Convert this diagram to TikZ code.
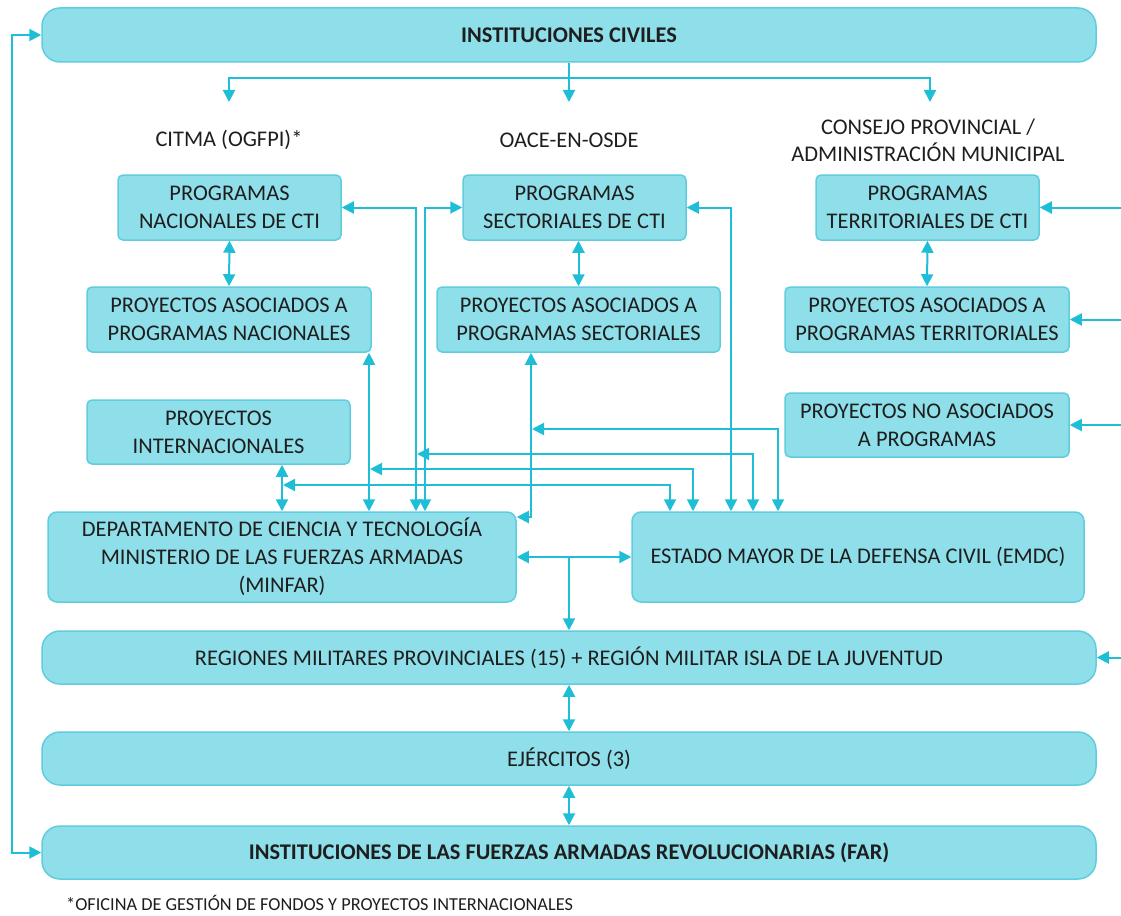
\documentclass[tikz,border=0pt]{standalone}
\usepackage{fontspec}
\setmainfont{Carlito}
\usetikzlibrary{arrows.meta,calc}
\definecolor{bfill}{RGB}{142,223,234}
\definecolor{bdraw}{RGB}{95,205,222}
\definecolor{lnc}{RGB}{30,190,214}
\definecolor{txt}{RGB}{30,30,30}
\begin{document}
\begin{tikzpicture}[x=1pt,y=-1pt,
  >={Triangle[length=12pt,width=12pt]},
  box/.style={draw=bdraw, fill=bfill, line width=1.5pt, rounded corners=5pt, align=center, text=txt, font=\fontsize{22.4}{28}\selectfont, inner sep=0pt},
  bigbox/.style={box, rounded corners=9pt, minimum width=#1, minimum height=90pt},
  bar/.style={box, rounded corners=18pt, minimum width=1054pt, minimum height=53pt},
  lbl/.style={align=center, text=txt, font=\fontsize{22.4}{27}\selectfont, inner sep=0pt},
  con/.style={draw=lnc, line width=2pt}]
\useasboundingbox (0,0) rectangle (1121,915);

% boxes
\node[bar, minimum height=54pt, font=\fontsize{22.4}{28}\selectfont\bfseries] (civ) at (569,35) {INSTITUCIONES CIVILES};
\node[lbl] (citma) at (229,140) {CITMA (OGFPI)*};
\node[lbl] (oace) at (569,140) {OACE-EN-OSDE};
\node[lbl] (cons) at (928,140) {CONSEJO PROVINCIAL /\\ADMINISTRACIÓN MUNICIPAL};

\node[box, minimum width=223pt, minimum height=65pt] (pn) at (229.5,207.5) {PROGRAMAS\\NACIONALES DE CTI};
\node[box, minimum width=223pt, minimum height=65pt] (ps) at (574.5,207.5) {PROGRAMAS\\SECTORIALES DE CTI};
\node[box, minimum width=223pt, minimum height=65pt] (pt) at (927.5,207.5) {PROGRAMAS\\TERRITORIALES DE CTI};

\node[box, minimum width=284pt, minimum height=65pt] (pan) at (229,319.5) {PROYECTOS ASOCIADOS A\\PROGRAMAS NACIONALES};
\node[box, minimum width=283pt, minimum height=65pt] (pas) at (578.5,319.5) {PROYECTOS ASOCIADOS A\\PROGRAMAS SECTORIALES};
\node[box, minimum width=284pt, minimum height=65pt] (pat) at (927,319.5) {PROYECTOS ASOCIADOS A\\PROGRAMAS TERRITORIALES};

\node[box, minimum width=263pt, minimum height=64pt] (pi) at (218.5,432) {PROYECTOS\\INTERNACIONALES};
\node[box, minimum width=284pt, minimum height=64pt] (pna) at (927,425) {PROYECTOS NO ASOCIADOS\\A PROGRAMAS};

\node[bigbox=468pt] (minfar) at (282,557) {DEPARTAMENTO DE CIENCIA Y TECNOLOGÍA\\MINISTERIO DE LAS FUERZAS ARMADAS\\(MINFAR)};
\node[bigbox=452pt] (emdc) at (858,557) {ESTADO MAYOR DE LA DEFENSA CIVIL (EMDC)};

\node[bar] (reg) at (569,657.5) {REGIONES MILITARES PROVINCIALES (15) + REGIÓN MILITAR ISLA DE LA JUVENTUD};
\node[bar] (ejer) at (569,758.5) {EJÉRCITOS (3)};
\node[bar, font=\fontsize{22.4}{28}\selectfont\bfseries] (far) at (569,852.5) {INSTITUCIONES DE LAS FUERZAS ARMADAS REVOLUCIONARIAS (FAR)};

\node[anchor=west, text=txt, font=\fontsize{18.3}{22}\selectfont, inner sep=0pt] (fn) at (66,903) {*OFICINA DE GESTIÓN DE FONDOS Y PROYECTOS INTERNACIONALES};

% helper coordinates
\coordinate (lx) at (12,0);
\coordinate (bus) at (0,78);
\coordinate (a1) at (229,102);
\coordinate (a2) at (569,102);
\coordinate (a3) at (930,102);
\coordinate (xA) at (416,0);
\coordinate (xB) at (425,0);
\coordinate (xC) at (369,0);
\coordinate (xE) at (531,0);
\coordinate (xF) at (731,0);
\coordinate (yE) at (0,517);
\coordinate (e1) at (778,0);
\coordinate (e2) at (753,0);
\coordinate (e3) at (693,0);
\coordinate (e4) at (670,0);
\coordinate (rx) at (1121,0);

% left loop
\draw[con,<->] (civ.west) -- (civ.west -| lx) |- (far.west);

% top distribution
\draw[con,->] (civ.south) -- (a2);
\draw[con,->] (a2 |- bus) -| (a1);
\draw[con,->] (a2 |- bus) -| (a3);

% vertical pairs
\draw[con,<->] (pn.south) -- (pan.north);
\draw[con,<->] (pas.north |- ps.south) -- (pas.north);
\draw[con,<->] (pt.south) -- (pat.north);

% links to MINFAR
\draw[con,<->] (pn.east) -| (xA |- minfar.north);
\draw[con,<->] (ps.west) -| (xB |- minfar.north);
\draw[con,<->] (xC |- pan.south) -- (xC |- minfar.north);
\draw[con,<->] (minfar.north |- pi.south) -- (minfar.north);
\draw[con,<->] (xE |- pas.south) |- (minfar.east |- yE);

% links to EMDC
\draw[con,<->] (ps.east) -| (xF |- emdc.north);
\draw[con,<->] (e1 |- emdc.north) |- ($(xE)+(1,429)$);
\draw[con,<->] (e2 |- emdc.north) |- ($(xA)+(1,454)$);
\draw[con,<->] (e3 |- emdc.north) |- ($(xC)+(1,469)$);
\draw[con,<->] (e4 |- emdc.north) |- ($(minfar.north |- 0,485)+(1,0)$);

% MINFAR - EMDC - regions
\draw[con,<->] (minfar.east) -- (emdc.west);
\draw[con,->] (reg.north |- minfar.east) -- (reg.north);
\draw[con,<->] (reg.south) -- (ejer.north);
\draw[con,<->] (ejer.south) -- (far.north);

% arrows from right edge
\draw[con,->] (rx |- pt.east) -- (pt.east);
\draw[con,->] (rx |- pat.east) -- (pat.east);
\draw[con,->] (rx |- pna.east) -- (pna.east);
\draw[con,->] (rx |- reg.east) -- (reg.east);
\end{tikzpicture}
\end{document}
